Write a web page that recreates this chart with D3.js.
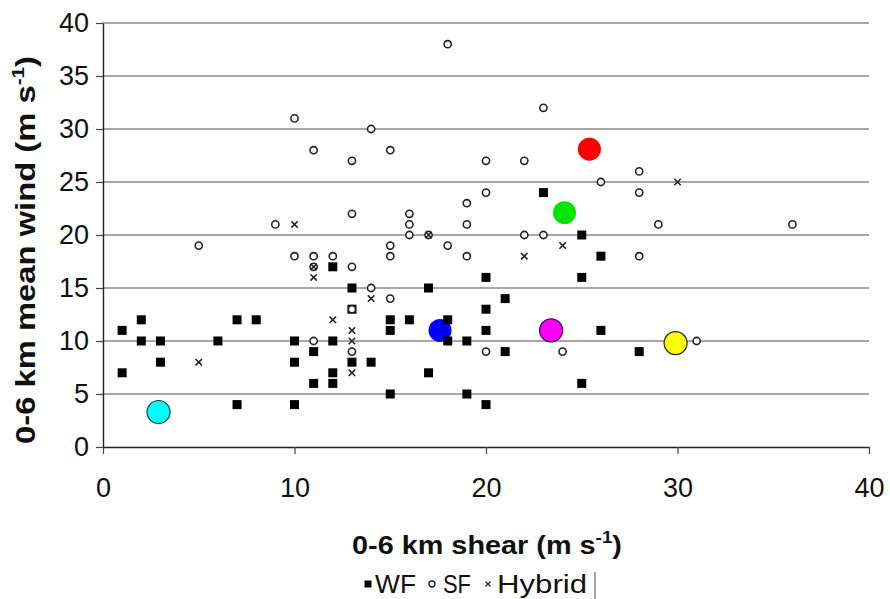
<!DOCTYPE html>
<html>
<head>
<meta charset="utf-8">
<script src="https://cdn.jsdelivr.net/npm/d3@7"></script>
<style>
  html, body { margin: 0; padding: 0; background: #fff; }
  svg { display: block; }
  text { font-family: "Liberation Sans", Arial, sans-serif; fill: #111; }
</style>
</head>
<body>
<svg id="chart" width="890" height="599"></svg>
<script>
// ---- data ----
const xTicks = [0, 10, 20, 30, 40];
const yTicks = [0, 5, 10, 15, 20, 25, 30, 35, 40];
const gridValues = [5, 10, 15, 20, 25, 30, 35, 40];

const wfPoints = [
  [1,11],[1,7],[2,12],[2,10],[3,10],[3,8],[6,10],[7,12],[8,12],[7,4],
  [10,10],[10,8],[10,4],[11,9],[11,6],
  [12,17],[12,10],[12,7],[12,6],
  [13,15],[13,13],[13,8],
  [14,8],
  [15,12],[15,11],[15,5],
  [16,12],
  [17,15],[17,7],
  [18,12],[18,10],
  [19,10],[19,5],
  [20,16],[20,13],[20,11],[20,4],
  [21,14],[21,9],
  [23,24],
  [25,20],[25,16],[25,6],
  [26,18],[26,11],
  [28,9]
];

const sfPoints = [
  [5,19],[9,21],[10,31],[10,18],[11,28],[11,18],[11,17],[11,10],[12,18],
  [13,27],[13,22],[13,17],[13,13],[13,9],[14,30],[14,15],[15,28],[15,19],
  [15,18],[15,14],[16,22],[16,21],[16,20],[17,20],[18,38],[18,19],[19,23],
  [19,21],[19,18],[20,27],[20,24],[20,9],[22,27],[22,20],[23,32],[23,20],
  [24,9],[26,25],[28,26],[28,24],[28,18],[29,21],[31,10],[36,21]
];

const hybridPoints = [
  [5,8],[10,21],[11,17],[11,16],[12,12],[13,11],[13,10],[13,7],[14,14],
  [17,20],[22,18],[24,19],[30,25]
];

const highlightNames = ["cyan", "blue", "magenta", "yellow", "red", "green"];
const highlightX = [2.9, 17.6, 23.4, 29.9, 25.4, 24.1];
const highlightY = [3.3, 11.0, 11.0, 9.8, 28.1, 22.1];

const legendLabels = ["WF", "SF", "Hybrid"];

// ---- styles ----
const highlightStyle = {
  cyan:    { fill: "#00ffff", stroke: "#1a3a3a" },
  blue:    { fill: "#0000ff", stroke: "none" },
  magenta: { fill: "#ff00ff", stroke: "#3a0a3a" },
  yellow:  { fill: "#ffff00", stroke: "#222" },
  red:     { fill: "#ff0000", stroke: "none" },
  green:   { fill: "#00e600", stroke: "none" }
};

const svg = d3.select("#chart");
const x = d3.scaleLinear().domain([0, 40]).range([103, 869]);
const y = d3.scaleLinear().domain([0, 40]).range([447, 23]);

// gridlines
svg.append("g").selectAll("line").data(gridValues).enter().append("line")
  .attr("x1", x(0)).attr("x2", x(40))
  .attr("y1", d => y(d)).attr("y2", d => y(d))
  .attr("stroke", "#8a8a8a").attr("stroke-width", 1.4);

// axes
const yAxis = svg.append("g").attr("transform", `translate(${x(0)},0)`)
  .call(d3.axisLeft(y).tickValues(yTicks).tickSize(7).tickSizeOuter(0).tickPadding(7));
const xAxis = svg.append("g").attr("transform", `translate(0,${y(0)})`)
  .call(d3.axisBottom(x).tickValues(xTicks).tickSize(7).tickSizeOuter(0).tickPadding(24));
[yAxis, xAxis].forEach(g => {
  g.select(".domain").attr("stroke", "#222").attr("stroke-width", 1.4);
  g.selectAll(".tick line").attr("stroke", "#444").attr("stroke-width", 1.2);
  g.selectAll(".tick text").attr("font-size", 27).attr("font-family", "Liberation Sans, Arial, sans-serif").attr("fill", "#111");
});
xAxis.selectAll(".tick line").attr("y2", 7);

// highlighted big circles
const hl = highlightNames.map((n, i) => ({ name: n, x: highlightX[i], y: highlightY[i] }));
svg.append("g").selectAll("circle").data(hl).enter().append("circle")
  .attr("cx", d => x(d.x)).attr("cy", d => y(d.y)).attr("r", 11.5)
  .attr("fill", d => highlightStyle[d.name].fill)
  .attr("stroke", d => highlightStyle[d.name].stroke)
  .attr("stroke-width", 1.2);

// WF squares
const sq = 9;
svg.append("g").selectAll("rect").data(wfPoints).enter().append("rect")
  .attr("x", d => x(d[0]) - sq / 2).attr("y", d => y(d[1]) - sq / 2)
  .attr("width", sq).attr("height", sq).attr("fill", "#000");

// SF circles
svg.append("g").selectAll("circle").data(sfPoints).enter().append("circle")
  .attr("cx", d => x(d[0])).attr("cy", d => y(d[1])).attr("r", 3.6)
  .attr("fill", "#fff").attr("stroke", "#222").attr("stroke-width", 1.6);

// Hybrid crosses
const hs = 3.2;
svg.append("g").selectAll("path").data(hybridPoints).enter().append("path")
  .attr("d", d => {
    const cx = x(d[0]), cy = y(d[1]);
    return `M${cx-hs},${cy-hs}L${cx+hs},${cy+hs}M${cx-hs},${cy+hs}L${cx+hs},${cy-hs}`;
  })
  .attr("stroke", "#222").attr("stroke-width", 1.6).attr("fill", "none");

// axis titles
const yTitle = svg.append("text")
  .attr("transform", `translate(35,250) rotate(-90)`)
  .attr("text-anchor", "middle").attr("font-size", 27).attr("font-weight", "bold")
  .attr("textLength", 388).attr("lengthAdjust", "spacingAndGlyphs");
yTitle.append("tspan").text("0-6 km mean wind (m s");
yTitle.append("tspan").attr("font-size", 17).attr("dy", -11).text("-1");
yTitle.append("tspan").attr("dy", 11).text(")");

const xTitle = svg.append("text")
  .attr("x", 487).attr("y", 554)
  .attr("text-anchor", "middle").attr("font-size", 26).attr("font-weight", "bold")
  .attr("textLength", 270).attr("lengthAdjust", "spacingAndGlyphs");
xTitle.append("tspan").text("0-6 km shear (m s");
xTitle.append("tspan").attr("font-size", 17).attr("dy", -11).text("-1");
xTitle.append("tspan").attr("dy", 11).text(")");

// legend
const lg = svg.append("g");
const legendX = [368, 432, 488];
const textX = [375, 443, 497];
const textLen = [41, 28, 90];
const markerY = 584;
lg.append("rect").attr("x", legendX[0] - 3.5).attr("y", markerY - 3.5).attr("width", 7).attr("height", 7).attr("fill", "#000");
lg.append("circle").attr("cx", legendX[1]).attr("cy", markerY).attr("r", 3).attr("fill", "#fff").attr("stroke", "#222").attr("stroke-width", 1.3);
lg.append("path").attr("d", `M${legendX[2]-2.5},${markerY-2.5}L${legendX[2]+2.5},${markerY+2.5}M${legendX[2]-2.5},${markerY+2.5}L${legendX[2]+2.5},${markerY-2.5}`)
  .attr("stroke", "#222").attr("stroke-width", 1.3);
legendLabels.forEach((t, i) => {
  lg.append("text").attr("x", textX[i]).attr("y", 593).attr("font-size", 26)
    .attr("textLength", textLen[i]).attr("lengthAdjust", "spacingAndGlyphs").text(t);
});
lg.append("line").attr("x1", 595).attr("x2", 595).attr("y1", 572).attr("y2", 599)
  .attr("stroke", "#666").attr("stroke-width", 1.2);
</script>
</body>
</html>
